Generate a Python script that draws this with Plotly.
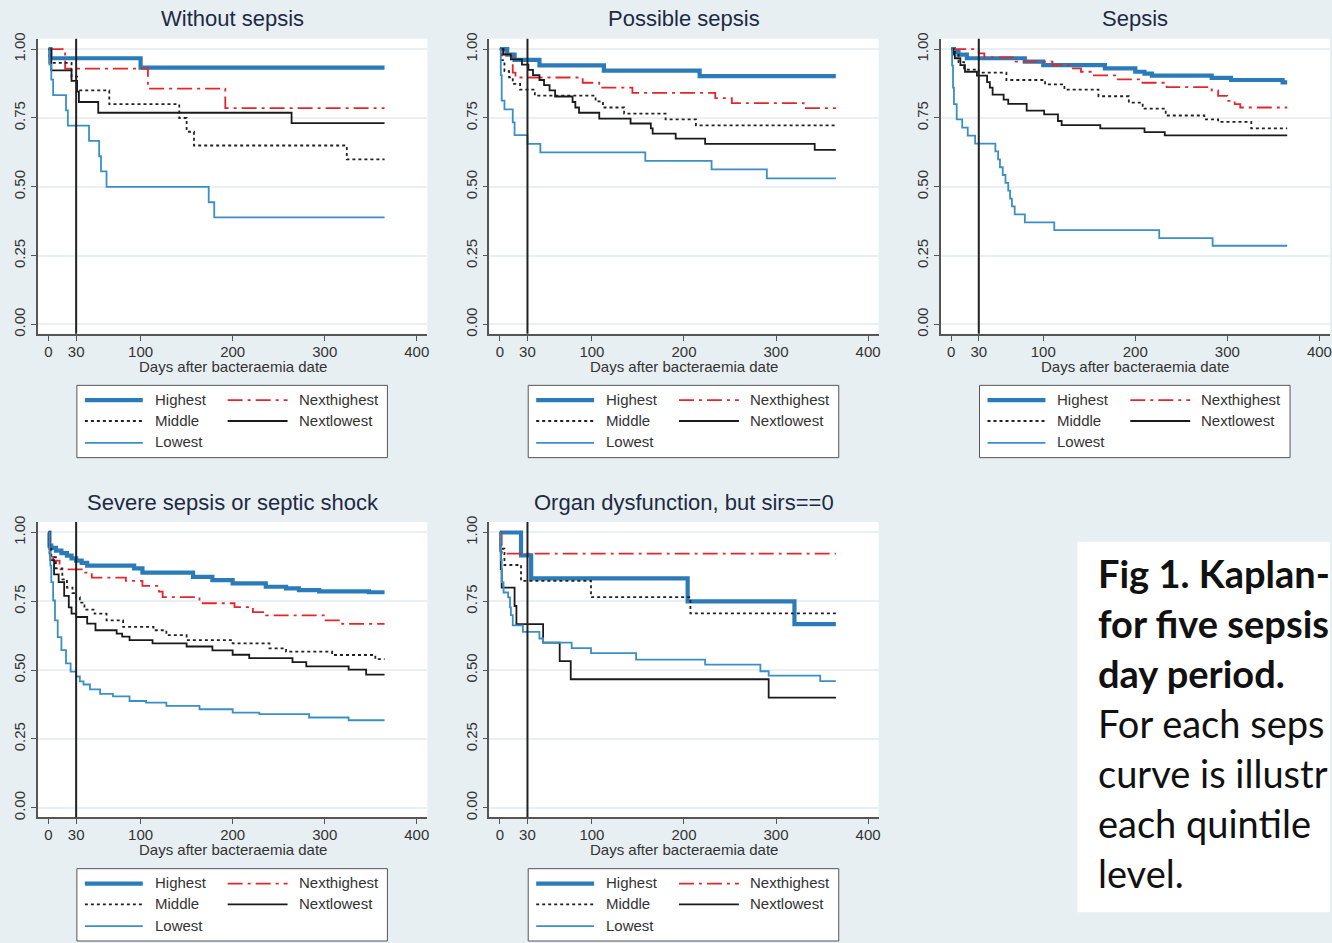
import plotly.graph_objects as go

FIG_W, FIG_H = 1332, 943

GROUPS = ["Highest", "Nexthighest", "Middle", "Nextlowest", "Lowest"]
PANEL_TITLES = [
    "Without sepsis",
    "Possible sepsis",
    "Sepsis",
    "Severe sepsis or septic shock",
    "Organ dysfunction, but sirs==0",
]
X_TITLE = "Days after bacteraemia date"
X_TICKS = [0, 30, 100, 200, 300, 400]
Y_TICKS = [0.0, 0.25, 0.5, 0.75, 1.0]
Y_TICK_TEXT = ["0.00", "0.25", "0.50", "0.75", "1.00"]
END_DAY = 365
MARK_DAY = 30

CAPTION_LINES = [
    ("Fig 1. Kaplan-", True),
    ("for five sepsis", True),
    ("day period.", True),
    ("For each seps", False),
    ("curve is illustr", False),
    ("each quintile", False),
    ("level.", False),
]

# ---------------- Panel 1: Without sepsis ----------------
p1_highest_t = [0, 2, 100]
p1_highest_s = [1.0, 0.967, 0.933]
p1_nexthighest_t = [0, 18, 108, 192]
p1_nexthighest_s = [1.0, 0.929, 0.857, 0.786]
p1_middle_t = [0, 1, 25, 31, 66, 142, 150, 158, 324]
p1_middle_s = [1.0, 0.95, 0.90, 0.85, 0.80, 0.75, 0.70, 0.65, 0.60]
p1_nextlowest_t = [0, 3, 25, 31, 33, 54, 264]
p1_nextlowest_s = [1.0, 0.923, 0.885, 0.846, 0.808, 0.769, 0.731]
p1_lowest_t = [0, 1, 3, 5, 19, 21, 44, 55, 57, 63, 174, 180]
p1_lowest_s = [1.0, 0.944, 0.889, 0.833, 0.778, 0.722, 0.667, 0.611, 0.556, 0.50, 0.444, 0.389]

# ---------------- Panel 2: Possible sepsis ----------------
p2_highest_t = [0, 8, 16, 43, 113, 217]
p2_highest_s = [1.0, 0.98, 0.961, 0.941, 0.922, 0.902]
p2_nexthighest_t = [0, 3, 14, 17, 90, 108, 144, 234, 252, 330]
p2_nexthighest_s = [1.0, 0.98, 0.915, 0.897, 0.878, 0.86, 0.841, 0.822, 0.804, 0.786]
p2_middle_t = [0, 2, 5, 10, 14, 22, 38, 104, 112, 135, 180, 213]
p2_middle_s = [1.0, 0.96, 0.92, 0.898, 0.874, 0.853, 0.831, 0.81, 0.788, 0.766, 0.745, 0.723]
p2_nextlowest_t = [0, 4, 12, 24, 31, 36, 43, 48, 54, 60, 79, 82, 86, 108, 142, 164, 166, 191, 223, 342]
p2_nextlowest_s = [1.0, 0.981, 0.963, 0.944, 0.925, 0.906, 0.888, 0.869, 0.85, 0.828, 0.808,
                   0.788, 0.769, 0.748, 0.73, 0.712, 0.693, 0.675, 0.656, 0.634]
p2_lowest_t = [0, 1, 2, 5, 14, 16, 30, 44, 158, 230, 290]
p2_lowest_s = [1.0, 0.906, 0.813, 0.781, 0.734, 0.688, 0.656, 0.625, 0.594, 0.563, 0.531]

# ---------------- Panel 3: Sepsis ----------------
p3_highest_t = [0, 3, 8, 17, 80, 100, 167, 200, 210, 218, 283, 304, 360]
p3_highest_s = [1.0, 0.99, 0.98, 0.967, 0.955, 0.942, 0.93, 0.918, 0.911, 0.904, 0.896, 0.888, 0.879]
p3_nexthighest_t = [0, 30, 36, 70, 110, 128, 141, 155, 181, 204, 234, 283, 290, 300, 308, 314]
p3_nexthighest_s = [1.0, 0.985, 0.97, 0.955, 0.942, 0.93, 0.918, 0.905, 0.89, 0.878, 0.862,
                    0.85, 0.83, 0.812, 0.80, 0.788]
p3_middle_t = [0, 3, 8, 14, 30, 60, 102, 123, 160, 193, 208, 233, 275, 290, 326]
p3_middle_s = [1.0, 0.98, 0.953, 0.926, 0.915, 0.888, 0.872, 0.853, 0.829, 0.806, 0.784,
               0.759, 0.745, 0.736, 0.712]
p3_nextlowest_t = [0, 2, 4, 10, 15, 28, 39, 42, 45, 57, 62, 82, 101, 116, 120, 162, 210, 232]
p3_nextlowest_s = [1.0, 0.99, 0.967, 0.942, 0.918, 0.904, 0.88, 0.86, 0.835, 0.817, 0.801,
                   0.777, 0.763, 0.739, 0.724, 0.712, 0.699, 0.687]
p3_lowest_t = [0, 1, 2, 3, 6, 12, 18, 26, 48, 51, 53, 56, 59, 62, 64, 66, 69, 80, 112, 226, 284]
p3_lowest_s = [1.0, 0.94, 0.86, 0.80, 0.745, 0.715, 0.686, 0.657, 0.629, 0.60, 0.571, 0.543,
               0.514, 0.486, 0.457, 0.429, 0.40, 0.371, 0.343, 0.314, 0.286]

# ---------------- Panel 4: Severe sepsis or septic shock ----------------
p4_highest_t = [0, 1, 3, 8, 14, 20, 25, 30, 36, 42, 93, 102, 157, 178, 200, 236, 258, 272, 294, 348]
p4_highest_s = [1.0, 0.952, 0.944, 0.934, 0.925, 0.916, 0.906, 0.898, 0.89, 0.88, 0.87, 0.854,
                0.839, 0.827, 0.815, 0.803, 0.797, 0.791, 0.786, 0.783]
p4_nexthighest_t = [0, 1, 5, 12, 38, 47, 84, 102, 120, 124, 164, 202, 222, 236, 301, 319]
p4_nexthighest_s = [1.0, 0.916, 0.898, 0.866, 0.854, 0.836, 0.824, 0.806, 0.785, 0.765, 0.743,
                    0.729, 0.711, 0.699, 0.681, 0.668]
p4_middle_t = [0, 1, 3, 8, 15, 20, 26, 30, 34, 39, 50, 63, 81, 114, 128, 150, 200, 240, 258, 308, 355]
p4_middle_s = [1.0, 0.95, 0.91, 0.87, 0.83, 0.80, 0.78, 0.765, 0.745, 0.72, 0.705, 0.681, 0.657,
               0.645, 0.627, 0.609, 0.597, 0.579, 0.567, 0.555, 0.54]
p4_nextlowest_t = [0, 1, 2, 6, 11, 17, 22, 25, 30, 42, 51, 74, 80, 88, 113, 150, 178, 200, 218,
                   265, 280, 326, 345]
p4_nextlowest_s = [1.0, 0.94, 0.90, 0.848, 0.82, 0.77, 0.728, 0.705, 0.693, 0.669, 0.645, 0.633,
                   0.622, 0.609, 0.597, 0.586, 0.572, 0.556, 0.544, 0.529, 0.514, 0.502, 0.484]
p4_lowest_t = [0, 1, 2, 3, 5, 7, 10, 14, 19, 24, 30, 34, 38, 45, 56, 70, 88, 106, 128, 164, 200,
               229, 283, 326]
p4_lowest_s = [1.0, 0.93, 0.88, 0.82, 0.753, 0.681, 0.62, 0.573, 0.525, 0.495, 0.477, 0.459,
               0.448, 0.43, 0.414, 0.405, 0.388, 0.382, 0.37, 0.358, 0.346, 0.34, 0.328, 0.318]

# ---------------- Panel 5: Organ dysfunction, but sirs==0 ----------------
p5_highest_t = [0, 23, 34, 204, 320]
p5_highest_s = [1.0, 0.917, 0.833, 0.75, 0.667]
p5_nexthighest_t = [0, 2]
p5_nexthighest_s = [1.0, 0.923]
p5_middle_t = [0, 1, 5, 23, 99, 207]
p5_middle_s = [1.0, 0.941, 0.882, 0.824, 0.765, 0.706]
p5_nextlowest_t = [0, 0.5, 1, 2, 16, 18, 47, 65, 77, 292]
p5_nextlowest_s = [1.0, 0.933, 0.867, 0.80, 0.733, 0.667, 0.60, 0.533, 0.467, 0.40]
p5_lowest_t = [0, 1, 2, 4, 9, 11, 12, 14, 25, 43, 47, 78, 99, 148, 223, 283, 292, 348]
p5_lowest_s = [1.0, 0.9, 0.82, 0.782, 0.764, 0.728, 0.70, 0.663, 0.639, 0.615, 0.60, 0.58,
               0.562, 0.538, 0.52, 0.496, 0.48, 0.46]

PANEL_DATA = [
    {"Highest": (p1_highest_t, p1_highest_s), "Nexthighest": (p1_nexthighest_t, p1_nexthighest_s),
     "Middle": (p1_middle_t, p1_middle_s), "Nextlowest": (p1_nextlowest_t, p1_nextlowest_s),
     "Lowest": (p1_lowest_t, p1_lowest_s)},
    {"Highest": (p2_highest_t, p2_highest_s), "Nexthighest": (p2_nexthighest_t, p2_nexthighest_s),
     "Middle": (p2_middle_t, p2_middle_s), "Nextlowest": (p2_nextlowest_t, p2_nextlowest_s),
     "Lowest": (p2_lowest_t, p2_lowest_s)},
    {"Highest": (p3_highest_t, p3_highest_s), "Nexthighest": (p3_nexthighest_t, p3_nexthighest_s),
     "Middle": (p3_middle_t, p3_middle_s), "Nextlowest": (p3_nextlowest_t, p3_nextlowest_s),
     "Lowest": (p3_lowest_t, p3_lowest_s)},
    {"Highest": (p4_highest_t, p4_highest_s), "Nexthighest": (p4_nexthighest_t, p4_nexthighest_s),
     "Middle": (p4_middle_t, p4_middle_s), "Nextlowest": (p4_nextlowest_t, p4_nextlowest_s),
     "Lowest": (p4_lowest_t, p4_lowest_s)},
    {"Highest": (p5_highest_t, p5_highest_s), "Nexthighest": (p5_nexthighest_t, p5_nexthighest_s),
     "Middle": (p5_middle_t, p5_middle_s), "Nextlowest": (p5_nextlowest_t, p5_nextlowest_s),
     "Lowest": (p5_lowest_t, p5_lowest_s)},
]

# ---------------- Styles & geometry ----------------
STYLE = {
    "Highest": dict(color="#2c7bb9", width=4.2, dash="solid"),
    "Nexthighest": dict(color="#e3262c", width=1.8, dash="15px,5px,3px,5px"),
    "Middle": dict(color="#222222", width=1.8, dash="3px,3px"),
    "Nextlowest": dict(color="#1a1a1a", width=1.8, dash="solid"),
    "Lowest": dict(color="#3a8fc7", width=1.8, dash="solid"),
}
FONT = "Liberation Sans, Arial, sans-serif"
CAPTION_FONT = "Lato, Noto Sans, sans-serif"
BG = "#e7eff2"
AXIS_COLOR = "#555555"
TEXT_COLOR = "#333333"
TITLE_COLOR = "#1e2a44"

PANEL_ORIGINS = [(38, 33), (490, 33), (942, 33), (38, 521), (490, 521)]
PW, PH = 390, 298


def fx(px):
    return px / FIG_W


def fy(py):
    return 1 - py / FIG_H


fig = go.Figure()
layout = dict(
    width=FIG_W, height=FIG_H,
    margin=dict(l=0, r=0, t=0, b=0),
    paper_bgcolor=BG, plot_bgcolor="white",
    showlegend=False,
    font=dict(family=FONT, color=TEXT_COLOR, size=15),
)
shapes = []
annotations = []

for i, (ox, oy) in enumerate(PANEL_ORIGINS):
    n = i + 1
    xa = "x" if n == 1 else f"x{n}"
    ya = "y" if n == 1 else f"y{n}"
    layout[f"xaxis{'' if n == 1 else n}"] = dict(
        domain=[fx(ox), fx(ox + PW)], anchor=ya,
        range=[-11.5, 411.5], tickvals=X_TICKS, ticks="outside", ticklen=5,
        tickwidth=1.3, tickcolor=AXIS_COLOR, showline=True, linecolor=AXIS_COLOR,
        linewidth=1.5, showgrid=False, zeroline=False, ticklabelstandoff=-2,
        tickfont=dict(size=15, color=TEXT_COLOR, family=FONT),
    )
    layout[f"yaxis{'' if n == 1 else n}"] = dict(
        domain=[fy(oy + PH), fy(oy)], anchor=xa,
        range=[-0.034, 1.038], tickvals=Y_TICKS, ticktext=Y_TICK_TEXT, tickangle=-90,
        ticks="outside", ticklen=5, tickwidth=1.3, tickcolor=AXIS_COLOR,
        showline=True, linecolor=AXIS_COLOR, linewidth=1.5,
        showgrid=True, gridcolor="#e9eff2", gridwidth=2, zeroline=False,
        tickfont=dict(size=15, color=TEXT_COLOR, family=FONT),
    )

    data = PANEL_DATA[i]
    for g in GROUPS:
        t, s = data[g]
        st = STYLE[g]
        fig.add_trace(go.Scatter(
            x=list(t) + [END_DAY], y=list(s) + [s[-1]],
            mode="lines", line=dict(color=st["color"], width=st["width"], dash=st["dash"], shape="hv"),
            name=g, xaxis=xa, yaxis=ya, hoverinfo="skip",
        ))

    # 30-day reference line
    shapes.append(dict(type="line", xref=xa, yref=f"{ya} domain", x0=MARK_DAY, x1=MARK_DAY,
                       y0=0, y1=1, line=dict(color="#222222", width=2)))

    # titles
    annotations.append(dict(text=PANEL_TITLES[i], xref="paper", yref="paper",
                            x=fx(ox + PW / 2), y=fy(oy - 20), xanchor="center", yanchor="middle",
                            showarrow=False, font=dict(size=22, color=TITLE_COLOR, family=FONT)))
    annotations.append(dict(text=X_TITLE, xref="paper", yref="paper",
                            x=fx(ox + PW / 2), y=fy(oy + 331), xanchor="center", yanchor="middle",
                            showarrow=False, font=dict(size=15, color=TEXT_COLOR, family=FONT)))

    # manual legend box
    shapes.append(dict(type="rect", xref="paper", yref="paper",
                       x0=fx(ox + 39), x1=fx(ox + 350), y0=fy(oy + 423), y1=fy(oy + 350),
                       fillcolor="white", line=dict(color="#555555", width=1)))
    slots = [(0, 365), (1, 365), (0, 386), (1, 386), (0, 408)]
    for g, (col, ry) in zip(GROUPS, slots):
        lx0 = ox + (47 if col == 0 else 190)
        lx1 = ox + (105 if col == 0 else 250)
        tx = ox + (115 if col == 0 else 259)
        st = STYLE[g]
        shapes.append(dict(type="line", xref="paper", yref="paper",
                           x0=fx(lx0), x1=fx(lx1), y0=fy(oy + ry), y1=fy(oy + ry),
                           line=dict(color=st["color"], width=st["width"], dash=st["dash"])))
        annotations.append(dict(text=g, xref="paper", yref="paper", x=fx(tx), y=fy(oy + ry - 1),
                                xanchor="left", yanchor="middle", showarrow=False,
                                font=dict(size=15, color=TEXT_COLOR, family=FONT)))

# caption box
shapes.append(dict(type="rect", xref="paper", yref="paper", x0=fx(1079), x1=1.0,
                   y0=fy(915), y1=fy(541), fillcolor="white", line=dict(width=0)))
for k, (txt, bold) in enumerate(CAPTION_LINES):
    annotations.append(dict(text=f"<b>{txt}</b>" if bold else txt, xref="paper", yref="paper",
                            x=fx(1098), y=fy(572 + 50.5 * k), xanchor="left", yanchor="middle",
                            showarrow=False, font=dict(size=38, color="#111111", family=CAPTION_FONT)))

layout["shapes"] = shapes
layout["annotations"] = annotations
fig.update_layout(**layout)
fig.write_html("out.html")
